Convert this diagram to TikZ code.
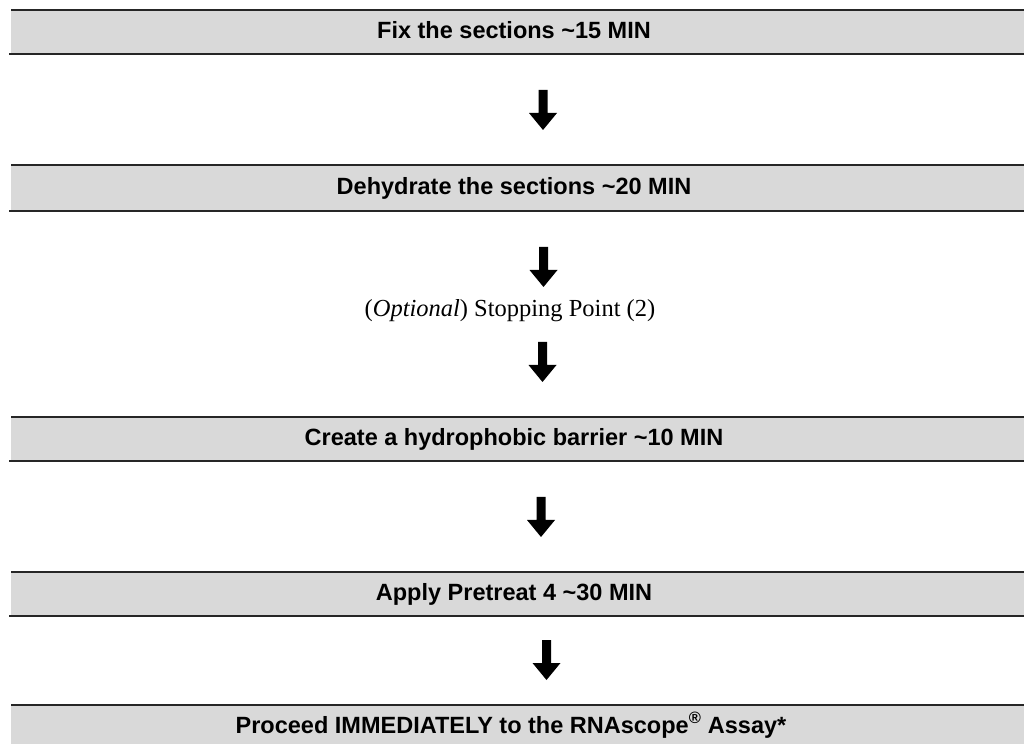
\documentclass[tikz,border=0pt]{standalone}
\usepackage{fontspec}
\setmainfont{Liberation Serif}
\setsansfont{Liberation Sans}
\definecolor{barGray}{HTML}{D9D9D9}
\definecolor{lineDark}{HTML}{262626}
\begin{document}
\begin{tikzpicture}[x=1pt,y=1pt,
  barfill/.style={fill=barGray},
  barline/.style={draw=lineDark, line width=1.5pt},
  bartext/.style={font=\sffamily\bfseries\fontsize{23.5}{28}\selectfont, anchor=base, inner sep=0pt, text=black},
  notetext/.style={font=\fontsize{24.5}{30}\selectfont, anchor=base, inner sep=0pt},
  blockdown/.pic={\fill[black] (-4.5,0) -- (4.5,0) -- (4.5,-23) -- (14,-23) -- (0,-40) -- (-14,-23) -- (-4.5,-23) -- cycle;}]
\useasboundingbox (0,0) rectangle (1024,744);
\fill[white] (0,0) rectangle (1024,744);
% bars (y measured from top: 744 - ypx)
\newcommand{\stepbar}[2]{%
  \fill[barfill] (11,744-#1) rectangle (1024,744-#2);
  \draw[barline] (11,744-#1) -- (1024,744-#1);
  \draw[barline] (9,744-#2) -- (1024,744-#2);}
\stepbar{10}{54}
\stepbar{165}{211}
\stepbar{417}{461}
\stepbar{572}{616}
\fill[barfill] (11,0) rectangle (1024,744-705);
\draw[barline] (11,744-705) -- (1024,744-705);
% texts
\node[bartext] (s1) at (514,744-39) {Fix the sections \textasciitilde15 MIN};
\node[bartext] (s2) at (514,744-195) {Dehydrate the sections \textasciitilde20 MIN};
\node[bartext] (s3) at (514,744-446) {Create a hydrophobic barrier \textasciitilde10 MIN};
\node[bartext] (s4) at (514,744-601) {Apply Pretreat 4 \textasciitilde30 MIN};
\node[bartext] (s5) at (511,744-733) {Proceed IMMEDIATELY to the RNAscope\textsuperscript{\textregistered} Assay*};
\node[notetext] (stop) at (510,744-317) {(\textit{Optional}) Stopping Point (2)};
% block arrows
\pic at (543,744-90) {blockdown};
\pic at (543.5,744-247) {blockdown};
\pic at (542.5,744-342) {blockdown};
\pic at (541,744-497) {blockdown};
\pic at (546.5,744-640) {blockdown};
\end{tikzpicture}
\end{document}
